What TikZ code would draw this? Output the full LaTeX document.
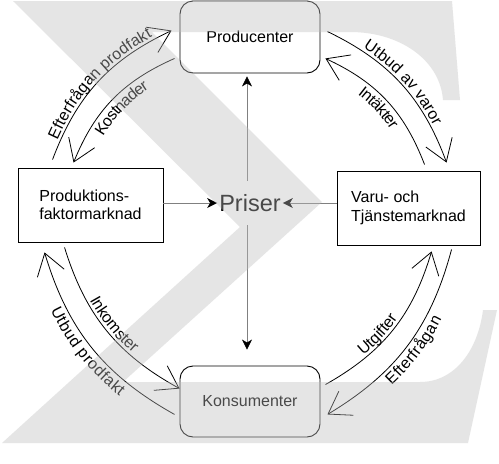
\documentclass[tikz,border=0pt]{standalone}
\usepackage{fontspec}
\setmainfont{Liberation Sans}
\usetikzlibrary{arrows.meta,calc,decorations.text}
\newcommand\lblfont{\fontsize{16}{19}\selectfont}
\begin{document}
\begin{tikzpicture}[x=1pt,y=-1pt,
  boxr/.style={draw=black, line width=0.9pt, fill=white, font=\fontsize{16}{18.5}\selectfont, align=left, inner sep=0pt},
  rbox/.style={boxr, rounded corners=13pt},
  flow/.style={line width=0.8pt, -{Straight Barb[length=21pt,width=28pt,line width=0.8pt]}},
  parr/.style={draw=black!50, line width=0.6pt, -{Stealth[length=10pt,width=10pt,inset=3pt,color=black]}},
  lab/.style={decorate, decoration={text along path, text align=center, raise=#1}},
  sigma/.style={fill=black!26, opacity=0.39}]
\useasboundingbox (0,0) rectangle (499,464);
\fill[white] (0,0) rectangle (499,464);

% boxes
\node[rbox, minimum width=140pt, minimum height=72pt] (prod) at (250,37) {Producenter};
\node[boxr, minimum width=145pt, minimum height=74pt] (pf) at (90.5,205) {Produktions-\\faktormarknad};
\node[boxr, minimum width=143pt, minimum height=74pt] (vtm) at (408.5,208) {Varu- och\\Tjänstemarknad};
\node[rbox, minimum width=140pt, minimum height=71pt] (kons) at (250,401.5) {Konsumenter};
\node[font=\fontsize{23.5}{28}\selectfont, inner xsep=2pt, inner ysep=0pt, minimum height=44pt] (priser) at (250,203) {Priser};

% price arrows
\draw[parr] (pf.east |- priser.west) -- (priser.west);
\draw[parr] (vtm.west |- priser.east) -- (priser.east);
\draw[parr, shorten >=3pt] ([xshift=-3pt]priser.north) -- ([xshift=-3pt]prod.south);
\draw[parr, shorten >=16pt] ([xshift=-3pt]priser.south) -- ([xshift=-3pt]kons.north);

% arc end points
\coordinate (tlo1) at ($(pf.north west)+(35,-8)$);
\coordinate (tlo2) at ($(prod.north west)+(-8,30)$);
\coordinate (tli1) at ($(prod.south west)+(-5,-15)$);
\coordinate (tli2) at ($(pf.north west)+(56,-5)$);
\coordinate (tro1) at ($(prod.north east)+(7,31)$);
\coordinate (tro2) at ($(vtm.north west)+(110,-8)$);
\coordinate (tri1) at ($(vtm.north west)+(88,-6)$);
\coordinate (tri2) at ($(prod.south east)+(5,-15)$);
\coordinate (blo1) at ($(kons.south west)+(-5,-23)$);
\coordinate (blo2) at ($(pf.south west)+(27,10)$);
\coordinate (bli1) at ($(pf.south west)+(47,5)$);
\coordinate (bli2) at ($(kons.north west)+(0,23)$);
\coordinate (bri1) at ($(kons.north east)+(5,19)$);
\coordinate (bri2) at ($(vtm.south west)+(95,6)$);
\coordinate (bro1) at ($(vtm.south west)+(115,4)$);
\coordinate (bro2) at ($(kons.south east)+(7,-23)$);

% flow arcs
\draw[flow] (tlo1) to[bend left=22] (tlo2);
\draw[flow] (tli1) to[bend right=22] (tli2);
\draw[flow] (tro1) to[bend left=22] (tro2);
\draw[flow] (tri1) to[bend right=22] (tri2);
\draw[flow] (blo1) to[bend left=22] (blo2);
\draw[flow] (bli1) to[bend right=22] (bli2);
\draw[flow] (bri1) to[bend right=22] (bri2);
\draw[flow] (bro1) to[bend left=22] (bro2);

% labels along arcs
\path[lab=3pt, decoration={text={|\lblfont|Efterfrågan prodfakt}}] (tlo1) to[bend left=22] (tlo2);
\path[lab=-15pt, decoration={text={|\lblfont|Kostnader}}] (tli2) to[bend left=22] (tli1);
\path[lab=3pt, decoration={text={|\lblfont|Utbud av varor}}] (tro1) to[bend left=22] (tro2);
\path[lab=-15pt, decoration={text={|\lblfont|Intäkter}}] (tri2) to[bend left=22] (tri1);
\path[lab=-15pt, decoration={text={|\lblfont|Utbud prodfakt}}] (blo2) to[bend right=22] (blo1);
\path[lab=3pt, decoration={text={|\lblfont|Inkomster}}] (bli1) to[bend right=22] (bli2);
\path[lab=3pt, decoration={text={|\lblfont|Utgifter}, text align={left, left indent=48pt}}] (bri1) to[bend right=22] (bri2);
\path[lab=-15pt, decoration={text={|\lblfont|Efterfrågan}}] (bro2) to[bend right=22] (bro1);

% translucent sigma shape on top
\fill[sigma] (13,1) -- (452,1) -- (460,100) -- (443,100)
  .. controls (440,60) and (400,32) .. (350,32) -- (152,32) -- (322,202)
  -- (123,382) -- (420,382) .. controls (455,382) and (478,350) .. (483,310)
  -- (497,310) -- (468,443) -- (2,443) -- (240,227) -- cycle;
\end{tikzpicture}
\end{document}
